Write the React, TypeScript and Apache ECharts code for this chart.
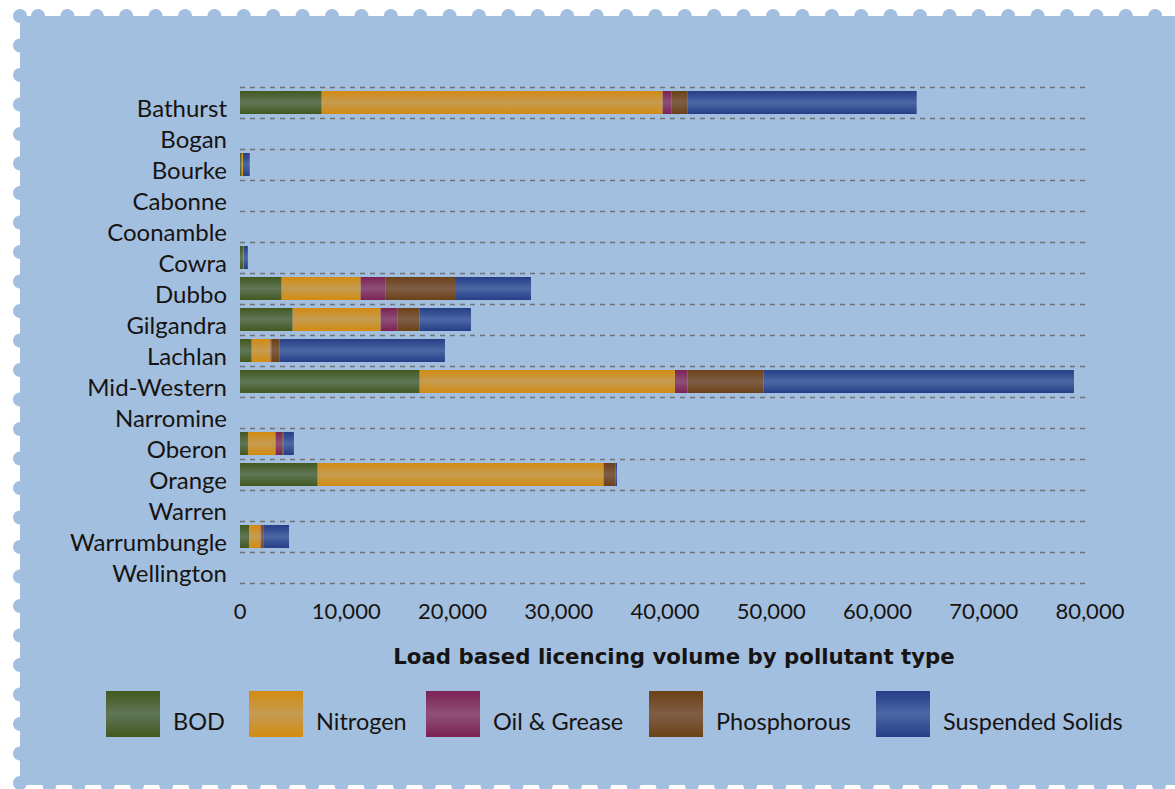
import React, { useEffect, useRef } from "react";
import * as echarts from "echarts";

// Load based licencing volume per council, split by pollutant type
const councils = [
  "Bathurst", "Bogan", "Bourke", "Cabonne", "Coonamble", "Cowra", "Dubbo", "Gilgandra",
  "Lachlan", "Mid-Western", "Narromine", "Oberon", "Orange", "Warren", "Warrumbungle", "Wellington",
];
const bod = [7690, 0, 160, 0, 0, 280, 3920, 4960, 1100, 16910, 0, 750, 7310, 0, 850, 0];
const nitrogen = [32090, 0, 125, 0, 0, 60, 7440, 8280, 1790, 24030, 0, 2600, 26920, 0, 1100, 0];
const oilGrease = [850, 0, 0, 0, 0, 0, 2350, 1600, 90, 1190, 0, 630, 0, 0, 90, 0];
const phosphorous = [1510, 0, 0, 0, 0, 0, 6530, 2070, 750, 7150, 0, 125, 1130, 0, 190, 0];
const suspendedSolids = [21550, 0, 630, 0, 0, 400, 7150, 4830, 15560, 29210, 0, 970, 125, 0, 2380, 0];

const xTicks = { min: 0, max: 80000, interval: 10000 };
const axisTitle = "Load based licencing volume by pollutant type";

const seriesDefs = [
  { name: "BOD", data: bod, dark: "#43591f", light: "#5f7657" },
  { name: "Nitrogen", data: nitrogen, dark: "#d28b10", light: "#c59c52" },
  { name: "Oil & Grease", data: oilGrease, dark: "#7c2255", light: "#8e5078" },
  { name: "Phosphorous", data: phosphorous, dark: "#6b4117", light: "#7f5e47" },
  { name: "Suspended Solids", data: suspendedSolids, dark: "#253e87", light: "#4d67a5" },
];
const legendLefts = [106, 249, 426, 649, 876];

const FONT = "Lato, 'Open Sans', sans-serif";
const TITLE_FONT = "'DejaVu Sans', Lato, sans-serif";
const TEXT = "#161412";
const PANEL = "#a3bfdf";

function band(dark: string, light: string) {
  return new echarts.graphic.LinearGradient(0, 0, 0, 1, [
    { offset: 0, color: dark },
    { offset: 0.5, color: light },
    { offset: 1, color: dark },
  ]);
}

// Perforated stamp-style panel behind the chart
function stampBackground() {
  const els: any[] = [];
  const z = -100;
  els.push({ type: "rect", z, shape: { x: 20, y: 16, width: 1200, height: 769 }, style: { fill: PANEL } });
  els.push({ type: "circle", z, shape: { cx: 20, cy: 16, r: 7 }, style: { fill: PANEL } });
  for (let x = 38; x < 1190; x += 29.4) {
    els.push({ type: "circle", z, shape: { cx: x, cy: 16, r: 7 }, style: { fill: PANEL } });
  }
  for (let y = 45.5; y < 800; y += 29.5) {
    els.push({ type: "circle", z, shape: { cx: 20, cy: y, r: 7 }, style: { fill: PANEL } });
  }
  for (let x = 49.4; x < 1190; x += 29.2) {
    els.push({ type: "circle", z, shape: { cx: x, cy: 785, r: 7 }, style: { fill: PANEL } });
  }
  return els;
}

export default function App() {
  const ref = useRef<HTMLDivElement>(null);

  useEffect(() => {
    if (!ref.current) return;
    const chart = echarts.init(ref.current, undefined, { renderer: "svg" });

    chart.setOption({
      animation: false,
      backgroundColor: "#ffffff",
      textStyle: { fontFamily: FONT, color: TEXT },
      graphic: stampBackground(),
      title: {
        text: axisTitle,
        left: 669,
        top: 641,
        textAlign: "center",
        textStyle: { fontFamily: TITLE_FONT, fontWeight: "bold", fontSize: 21.3, color: TEXT },
      },
      legend: seriesDefs.map((s, i) => ({
        data: [s.name],
        left: legendLefts[i],
        top: 691,
        padding: 0,
        itemWidth: 54,
        itemHeight: 46,
        icon: "rect",
        selectedMode: false,
        formatter: (name: string) => `{t|${name}}`,
        textStyle: {
          fontFamily: FONT,
          fontSize: 23.5,
          color: TEXT,
          rich: {
            t: { fontFamily: FONT, fontSize: 23.5, color: TEXT, padding: [13, 0, 0, 8] },
          },
        },
      })),
      grid: { left: 240, right: 85, top: 87, bottom: 206, containLabel: false },
      xAxis: {
        type: "value",
        min: xTicks.min,
        max: xTicks.max,
        interval: xTicks.interval,
        axisLine: { show: false },
        axisTick: { show: false },
        splitLine: { show: false },
        axisLabel: {
          margin: 16,
          fontFamily: FONT,
          fontSize: 22,
          color: TEXT,
          formatter: (v: number) => v.toLocaleString("en-US"),
        },
      },
      yAxis: {
        type: "category",
        data: councils,
        inverse: true,
        axisLine: { show: false },
        axisTick: { show: false },
        splitLine: {
          show: true,
          interval: 0,
          lineStyle: { color: "#6f7478", type: [5, 5], width: 1.3 },
        },
        axisLabel: {
          margin: 13,
          fontFamily: FONT,
          fontSize: 24,
          color: TEXT,
          interval: 0,
          verticalAlign: "top",
          lineHeight: 10,
        },
      },
      series: seriesDefs.map((s) => ({
        name: s.name,
        type: "bar",
        stack: "load",
        barWidth: 23,
        data: s.data,
        itemStyle: { color: band(s.dark, s.light) },
        emphasis: { disabled: true },
      })),
    });

    return () => chart.dispose();
  }, []);

  return (
    <div
      ref={ref}
      style={{ position: "fixed", left: 0, top: 0, width: 1175, height: 789 }}
    />
  );
}
